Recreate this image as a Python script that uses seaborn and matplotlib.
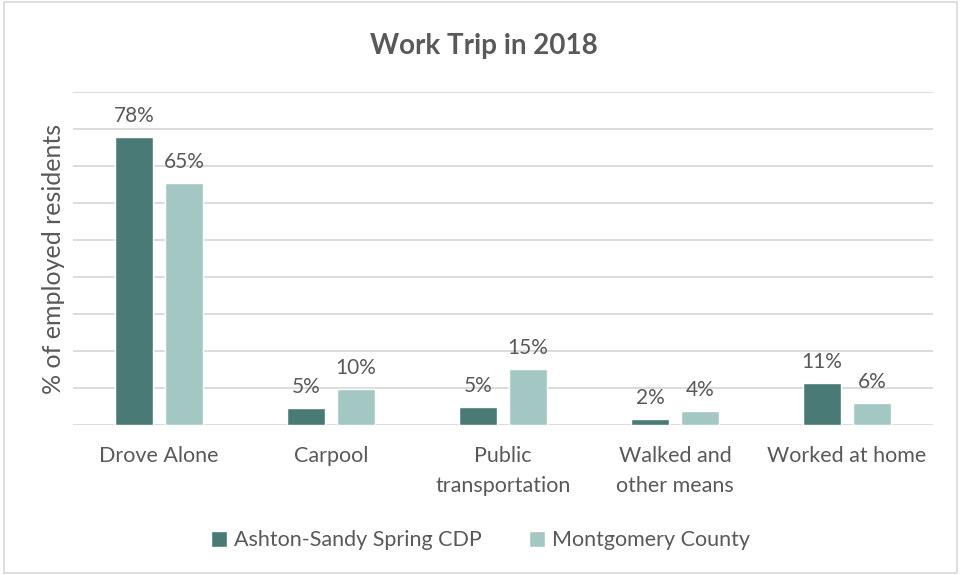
"""
Work Trip in 2018 - grouped bar chart
"""

import pandas as pd
import seaborn as sns
import matplotlib.pyplot as plt
from matplotlib.patches import Rectangle

# data
modes = ["Drove Alone", "Carpool", "Public\ntransportation",
         "Walked and\nother means", "Worked at home"]
ashton = [77.9, 4.6, 4.8, 1.5, 11.4]
montgomery = [65.4, 9.8, 15.1, 3.8, 6.0]
areas = ["Ashton-Sandy Spring CDP", "Montgomery County"]

df = pd.DataFrame({
    "mode": modes * 2,
    "area": [areas[0]] * len(modes) + [areas[1]] * len(modes),
    "pct": ashton + montgomery,
})

sns.set_theme(style="white")
plt.rcParams["font.family"] = ["Lato", "DejaVu Sans"]
text_col = "#595959"

fig = plt.figure(figsize=(9.61, 5.75), dpi=100)
ax = fig.add_axes([0.076, 0.261, 0.895, 0.579])

sns.barplot(data=df, x="mode", y="pct", hue="area", ax=ax,
            palette=["#497A75", "#A3C8C4"], width=0.58, gap=0.24,
            saturation=1)

for c in ax.containers:
    ax.bar_label(c, fmt="{:.0f}%", padding=8, fontsize=15, color=text_col)

ax.set_ylim(0, 90)
ax.set_yticks(range(0, 91, 10))
ax.set_yticklabels([])
ax.tick_params(axis="y", length=0)
ax.tick_params(axis="x", length=0, labelsize=15.5, labelcolor=text_col, pad=15)
for t in ax.get_xticklabels():
    t.set_linespacing(1.65)
ax.yaxis.grid(True, color="#D9D9D9", linewidth=1.3)
ax.set_axisbelow(True)
for s in ax.spines.values():
    s.set_visible(False)
ax.set_xlabel("")
ax.set_ylabel("% of employed residents", fontsize=18, color=text_col, labelpad=2)

handles, labels = ax.get_legend_handles_labels()
ax.legend_.remove()
fig.legend(handles, labels, loc="center", bbox_to_anchor=(0.5, 0.06), ncol=2,
           frameon=False, fontsize=15.5, labelcolor=text_col,
           handlelength=0.75, handleheight=0.75, handletextpad=0.3,
           columnspacing=2.2)

fig.text(0.503, 0.92, "Work Trip in 2018", ha="center", va="center",
         fontsize=20, fontweight="bold", color=text_col)

# chart-area border
fig.patches.append(Rectangle((0.004, 0.004), 0.992, 0.992, transform=fig.transFigure,
                             fill=False, edgecolor="#D9D9D9", linewidth=1.2))

plt.savefig("out.png", dpi=100)
